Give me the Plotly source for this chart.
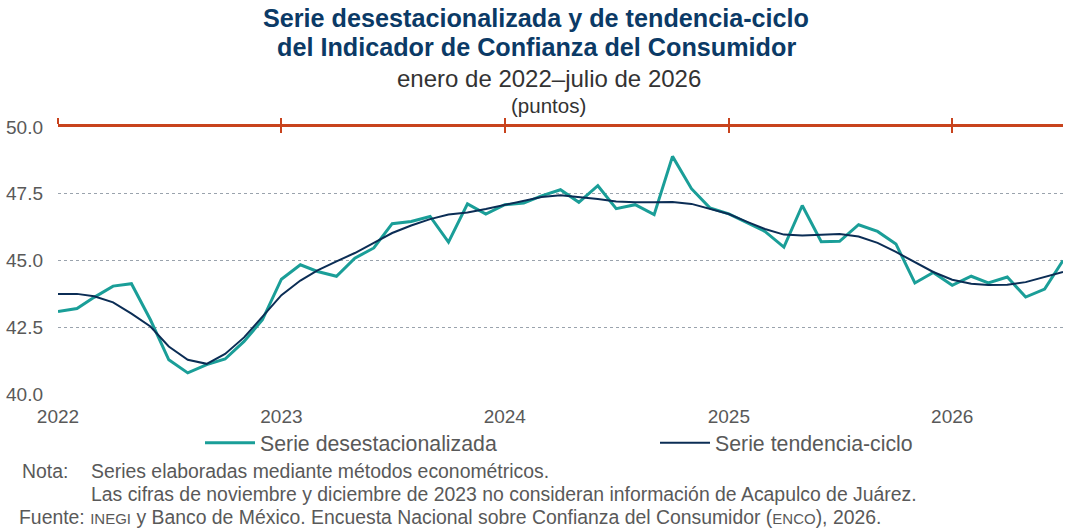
import pandas as pd
import plotly.graph_objects as go

months = pd.date_range("2022-01-01", "2026-07-01", freq="MS")

serie_desest = [43.09, 43.20, 43.62, 44.04, 44.13, 42.78, 41.28, 40.79, 41.10, 41.31, 41.97, 42.78,
                44.30, 44.84, 44.59, 44.41, 45.09, 45.47, 46.38, 46.46, 46.65, 45.69, 47.12, 46.74,
                47.09, 47.15, 47.42, 47.65, 47.18, 47.80, 46.94, 47.09, 46.72, 48.90, 47.69, 46.97,
                46.75, 46.40, 46.09, 45.50, 47.06, 45.70, 45.72, 46.34, 46.09, 45.62, 44.16, 44.55,
                44.07, 44.41, 44.16, 44.38, 43.63, 43.93, 45.00]

serie_tend = [43.75, 43.75, 43.66, 43.43, 43.01, 42.53, 41.78, 41.28, 41.13, 41.50, 42.12, 42.91,
              43.70, 44.25, 44.63, 44.97, 45.28, 45.66, 46.03, 46.31, 46.55, 46.72, 46.80, 46.93,
              47.09, 47.25, 47.38, 47.44, 47.38, 47.30, 47.21, 47.18, 47.18, 47.19, 47.12, 46.94,
              46.74, 46.44, 46.18, 45.97, 45.94, 45.96, 45.99, 45.90, 45.66, 45.32, 44.94, 44.57,
              44.28, 44.13, 44.08, 44.09, 44.19, 44.37, 44.57]

year_ticks = ["2022-01-01", "2023-01-01", "2024-01-01", "2025-01-01", "2026-01-01"]
year_labels = ["2022", "2023", "2024", "2025", "2026"]
y_ticks = [40.0, 42.5, 45.0, 47.5, 50.0]

TEAL = "#1a9e98"
NAVY = "#0b2d55"
RED = "#c8431d"
GRAY = "#595959"
FONT = "Liberation Sans, Arial, sans-serif"

fig = go.Figure()
fig.add_trace(go.Scatter(x=months, y=serie_desest, mode="lines", name="Serie desestacionalizada",
                         line=dict(color=TEAL, width=3), legend="legend"))
fig.add_trace(go.Scatter(x=months, y=serie_tend, mode="lines", name="Serie tendencia-ciclo",
                         line=dict(color=NAVY, width=2), legend="legend2"))
# invisible carriers so the top (threshold) axes are drawn
for ax in ("x2", "x3"):
    fig.add_trace(go.Scatter(x=months, y=serie_tend, xaxis=ax, mode="lines", opacity=0,
                             line=dict(width=0), hoverinfo="skip", showlegend=False))


def px_to_paper_x(px):
    return (px - 58) / 1005.0


def px_to_paper_y(py):
    return (394 - py) / 267.0


legend_common = dict(orientation="h", yanchor="middle", y=px_to_paper_y(443),
                     font=dict(size=21.3, color=GRAY), itemwidth=50,
                     bgcolor="rgba(0,0,0,0)", xanchor="left")

xr = [months[0], months[-1]]
fig.update_layout(
    width=1068, height=528,
    margin=dict(l=58, r=5, t=127, b=134),
    paper_bgcolor="white", plot_bgcolor="white",
    font=dict(family=FONT, color=GRAY, size=19),
    showlegend=True,
    legend=dict(x=px_to_paper_x(200), **legend_common),
    legend2=dict(x=px_to_paper_x(655), **legend_common),
    xaxis=dict(type="date", range=xr, tickvals=year_ticks, ticktext=year_labels,
               showgrid=False, showline=False, ticks="", zeroline=False,
               ticklabelstandoff=9, tickfont=dict(size=19, color=GRAY)),
    xaxis2=dict(type="date", overlaying="x", side="top", anchor="y", range=xr, tickvals=year_ticks,
                showticklabels=False, showline=True, linecolor=RED, linewidth=2.5,
                ticks="outside", ticklen=6, tickwidth=2, tickcolor=RED, showgrid=False,
                zeroline=False),
    xaxis3=dict(type="date", overlaying="x", side="top", anchor="y", range=xr, tickvals=year_ticks,
                showticklabels=False, showline=False,
                ticks="inside", ticklen=6, tickwidth=2, tickcolor=RED, showgrid=False,
                zeroline=False),
    yaxis=dict(range=[40, 50], tickvals=y_ticks, tickformat=".1f", showgrid=True,
               gridcolor="#9aa3ad", griddash="dot", gridwidth=1, zeroline=False,
               showline=False, ticks="", ticklabelstandoff=14,
               tickfont=dict(size=19, color=GRAY)),
)

title_color = "#0b3a66"
anns = [
    (536, 18, "<b>Serie desestacionalizada y de tendencia-ciclo</b>", 25.2, title_color),
    (536, 47, "<b>del Indicador de Confianza del Consumidor</b>", 25.2, title_color),
    (549, 78, "enero de 2022–julio de 2026", 24, "#333333"),
    (548, 105, "(puntos)", 20.5, "#333333"),
]
for px, py, t, sz, col in anns:
    fig.add_annotation(xref="paper", yref="paper", x=px_to_paper_x(px), y=px_to_paper_y(py),
                       xanchor="center", yanchor="middle", showarrow=False, text=t,
                       font=dict(size=sz, color=col))

notes = [
    (20, 471, "Nota:"),
    (89, 471, "Series elaboradas mediante métodos econométricos."),
    (89, 494, "Las cifras de noviembre y diciembre de 2023 no consideran información de Acapulco de Juárez."),
    (17, 517, "Fuente: <span style='font-size:15px'>INEGI</span> y Banco de México. Encuesta Nacional sobre "
              "Confianza del Consumidor (<span style='font-size:15px'>ENCO</span>), 2026."),
]
for px, py, t in notes:
    fig.add_annotation(xref="paper", yref="paper", x=px_to_paper_x(px), y=px_to_paper_y(py),
                       xanchor="left", yanchor="middle", showarrow=False, text=t,
                       font=dict(size=19.4, color=GRAY))

fig.write_html("out.html",
               config={"displayModeBar": False},
               post_script="document.body.style.margin='0';document.body.style.padding='0';"
                           "document.body.style.overflow='hidden';")
